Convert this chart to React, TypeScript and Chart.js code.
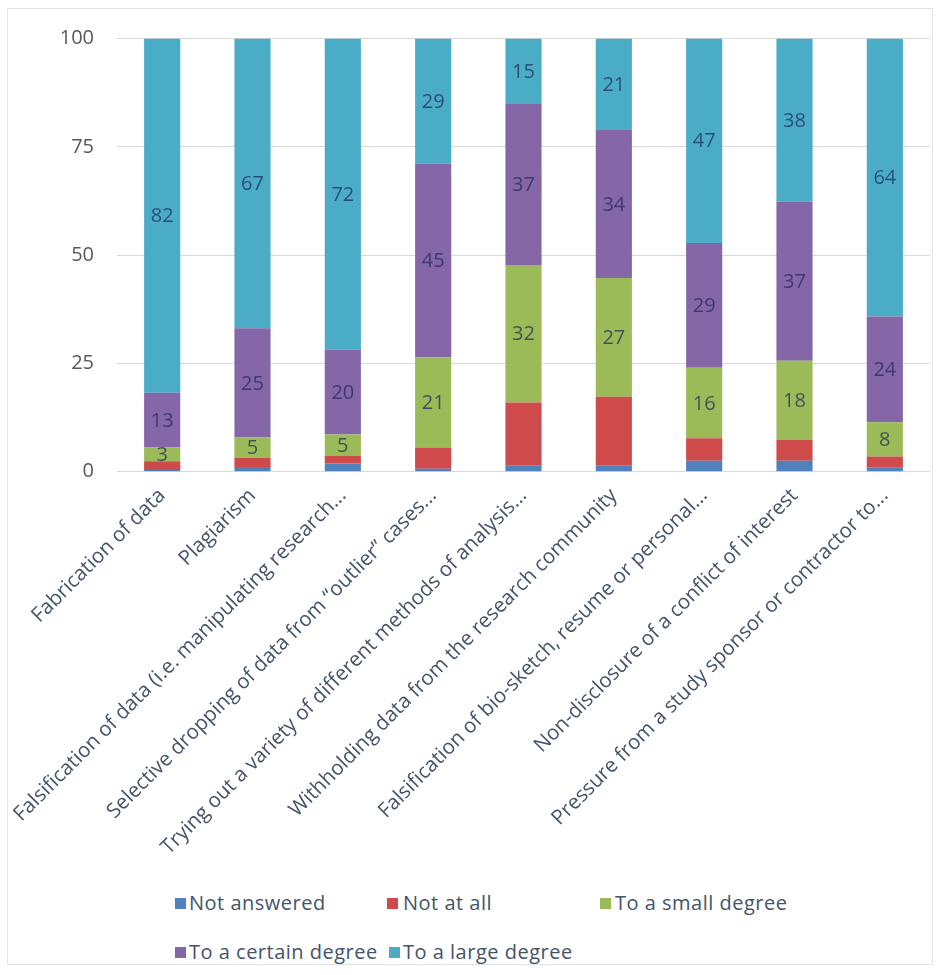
import React, { useEffect, useRef } from "react";
import { Chart, registerables } from "chart.js";

Chart.register(...registerables);

const categories = [
  "Fabrication of data",
  "Plagiarism",
  "Falsification of data (i.e. manipulating research...",
  "Selective dropping of data from \u201Coutlier\u201D cases...",
  "Trying out a variety of different methods of analysis...",
  "Withholding data from the research community",
  "Falsification of bio-sketch, resume or personal...",
  "Non-disclosure of a conflict of interest",
  "Pressure from a study sponsor or contractor to...",
];

const seriesNames = [
  "Not answered",
  "Not at all",
  "To a small degree",
  "To a certain degree",
  "To a large degree",
];

const notAnswered = [0.4, 1.1, 1.9, 0.7, 1.5, 1.5, 2.5, 2.5, 1.0];
const notAtAll = [2.0, 2.1, 1.7, 4.9, 14.5, 15.8, 5.2, 4.8, 2.5];
const smallDegree = [3.2, 4.7, 5.0, 20.8, 31.7, 27.4, 16.3, 18.3, 7.9];
const certainDegree = [12.6, 25.2, 19.6, 44.7, 37.2, 34.2, 28.8, 36.7, 24.4];
const largeDegree = [81.8, 66.9, 71.8, 28.9, 15.1, 21.1, 47.2, 37.7, 64.2];

const yTicks = [0, 25, 50, 75, 100];

const seriesColors = ["#4f81bd", "#cf4b4b", "#9bbb59", "#8566a6", "#4bacc8"];
const labelledSeries = [2, 3, 4];

const FONT = "'Open Sans', 'Liberation Sans', sans-serif";
const CANVAS_W = 945;
const CANVAS_H = 880;

const dataLabelPlugin = {
  id: "segmentLabels",
  afterDatasetsDraw(chart: any) {
    const ctx = chart.ctx;
    ctx.save();
    ctx.font = `20px ${FONT}`;
    ctx.fillStyle = "rgba(30,40,90,0.72)";
    ctx.textAlign = "center";
    ctx.textBaseline = "middle";
    labelledSeries.forEach((di) => {
      const meta = chart.getDatasetMeta(di);
      const ds = chart.data.datasets[di];
      meta.data.forEach((el: any, i: number) => {
        const v = ds.data[i] as number;
        const y = (el.y + el.base) / 2;
        ctx.fillText(String(Math.round(v)), el.x, y + 1);
      });
    });
    ctx.restore();
  },
};

export default function App() {
  const canvasRef = useRef<HTMLCanvasElement | null>(null);

  useEffect(() => {
    if (!canvasRef.current) return;
    const allSeries = [notAnswered, notAtAll, smallDegree, certainDegree, largeDegree];
    const chart = new Chart(canvasRef.current, {
      type: "bar",
      data: {
        labels: categories,
        datasets: allSeries.map((d, i) => ({
          label: seriesNames[i],
          data: d,
          backgroundColor: seriesColors[i],
          borderWidth: 0,
          barPercentage: 0.4,
          categoryPercentage: 1,
        })),
      },
      options: {
        responsive: false,
        maintainAspectRatio: false,
        animation: false,
        layout: { padding: { left: 0, right: 15, top: 38.5, bottom: 0 } },
        plugins: {
          legend: { display: false },
          tooltip: { enabled: false },
          title: { display: false },
        },
        scales: {
          x: {
            stacked: true,
            grid: { display: false },
            border: { display: false },
            ticks: {
              autoSkip: false,
              minRotation: 45,
              maxRotation: 45,
              padding: 4,
              color: "#44546a",
              font: { family: FONT, size: 20.5 },
            },
            afterFit: (scale: any) => {
              scale.height = CANVAS_H - 471.7;
            },
          },
          y: {
            stacked: true,
            min: 0,
            max: 100,
            afterBuildTicks: (scale: any) => {
              scale.ticks = yTicks.map((v) => ({ value: v }));
            },
            grid: { color: "#d9d9d9", lineWidth: 1, drawTicks: false },
            border: { display: false },
            ticks: {
              padding: 23,
              color: "#595959",
              font: { family: FONT, size: 20 },
            },
            afterFit: (scale: any) => {
              scale.width = 117;
            },
          },
        },
      },
      plugins: [dataLabelPlugin],
    });
    return () => chart.destroy();
  }, []);

  const legendPos = [
    { sx: 175, tx: 189, cy: 903 },
    { sx: 387, tx: 403, cy: 903 },
    { sx: 600, tx: 615, cy: 903 },
    { sx: 175, tx: 189, cy: 952 },
    { sx: 389, tx: 403, cy: 952 },
  ];

  return (
    <div style={{ position: "absolute", left: 0, top: 0, width: CANVAS_W, height: 975, background: "#fff" }}>
      <div
        style={{
          position: "absolute",
          left: 7,
          top: 8,
          width: 926,
          height: 957,
          border: "1px solid #dfe4ea",
          boxSizing: "border-box",
        }}
      />
      <canvas
        ref={canvasRef}
        width={CANVAS_W}
        height={CANVAS_H}
        style={{ position: "absolute", left: 0, top: 0, width: CANVAS_W, height: CANVAS_H }}
      />
      {seriesNames.map((name, i) => (
        <React.Fragment key={name}>
          <div
            style={{
              position: "absolute",
              left: legendPos[i].sx,
              top: legendPos[i].cy - 5,
              width: 11,
              height: 11,
              background: seriesColors[i],
            }}
          />
          <div
            style={{
              position: "absolute",
              left: legendPos[i].tx,
              top: legendPos[i].cy - 14,
              height: 28,
              lineHeight: "28px",
              fontFamily: FONT,
              fontSize: 20,
              letterSpacing: "0.5px",
              color: "#44546a",
              whiteSpace: "nowrap",
            }}
          >
            {name}
          </div>
        </React.Fragment>
      ))}
    </div>
  );
}
